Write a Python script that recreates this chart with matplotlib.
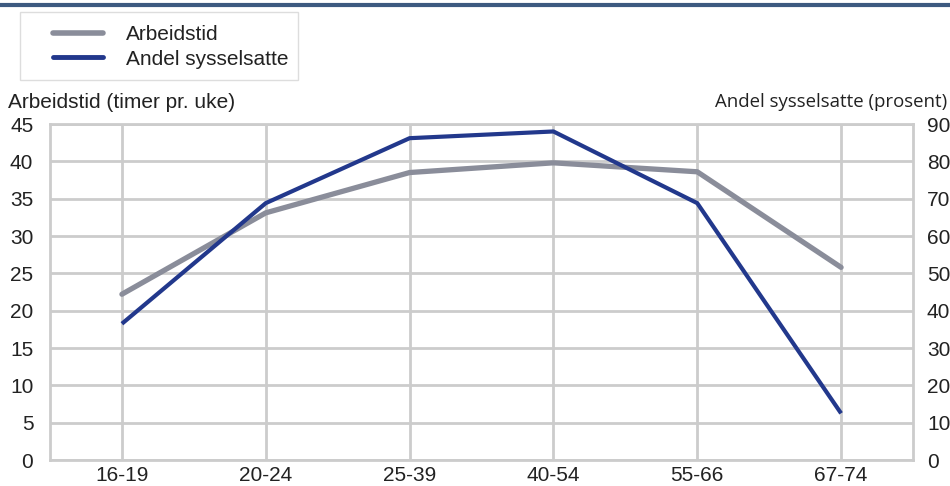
import numpy as np
import matplotlib
matplotlib.use("Agg")
import matplotlib.pyplot as plt
from matplotlib.lines import Line2D
from matplotlib.patches import Rectangle

# data
aldersgrupper = ['16-19', '20-24', '25-39', '40-54', '55-66', '67-74']
arbeidstid = [22.2, 33.1, 38.5, 39.8, 38.6, 25.8]        # timer pr. uke (venstre akse)
andel_sysselsatte = [36.5, 68.8, 86.2, 88.0, 68.8, 12.5]  # prosent (hoyre akse)

left_ticks = list(range(0, 50, 5))
right_ticks = list(range(0, 100, 10))

gray = '#8a8d9a'
blue = '#22388c'
grid_col = '#cccccc'
txt = '#222222'
fs = 15

plt.rcParams['font.family'] = ['Liberation Sans', 'DejaVu Sans']

fig = plt.figure(figsize=(9.5, 4.86), dpi=100)
ax = fig.add_axes([50/950, 1-460/486, 863/950, 336/486])
ax2 = ax.twinx()

x = np.arange(len(aldersgrupper))
ax.plot(x, arbeidstid, color=gray, lw=3.8, solid_capstyle='round', zorder=3)
ax2.plot(x, andel_sysselsatte, color=blue, lw=3, solid_capstyle='butt', zorder=3)

ax.set_xlim(-0.5, 5.5)
ax.set_ylim(0, 45)
ax2.set_ylim(0, 90)
ax.set_xticks(x)
ax.set_xticklabels(aldersgrupper)
ax.set_yticks(left_ticks)
ax2.set_yticks(right_ticks)

ax.grid(True, color=grid_col, lw=2)
ax.set_axisbelow(True)
for a in (ax, ax2):
    for s in a.spines.values():
        s.set_visible(False)
    a.tick_params(length=0, labelsize=fs, colors=txt)
ax.tick_params(axis='y', pad=12)
ax.tick_params(axis='x', pad=4)
ax2.tick_params(axis='y', pad=10)

# frame drawn in grid colour
for s in ('left', 'right', 'top', 'bottom'):
    ax.spines[s].set_visible(True)
    ax.spines[s].set_color(grid_col)
    ax.spines[s].set_linewidth(2)

fig.text(8/950, 1-102/486, 'Arbeidstid (timer pr. uke)', fontsize=fs,
         va='center', ha='left', color=txt)
fig.text(947/950, 1-102/486, 'Andel sysselsatte (prosent)', fontsize=13.4,
         va='center', ha='right', color=txt, family=['Open Sans', 'DejaVu Sans'])

# top bar
fig.add_artist(Line2D([0, 1], [1-5/486, 1-5/486], color='#3d5a80', lw=3,
                      transform=fig.transFigure))

# legend frame + entries
fig.add_artist(Rectangle((20/950, 1-80/486), 278/950, 68/486, transform=fig.transFigure,
                         facecolor='white', edgecolor='#dddddd', lw=1))
handles = [Line2D([], [], color=gray, lw=4, solid_capstyle='round'),
           Line2D([], [], color=blue, lw=3.5, solid_capstyle='round')]
leg = fig.legend(handles, ['Arbeidstid', 'Andel sysselsatte'], loc='center left',
                 bbox_to_anchor=(53/950, 1-47/486), fontsize=fs, frameon=False,
                 handlelength=2.4, handletextpad=1.1, borderpad=0,
                 labelspacing=0.25, borderaxespad=0)
for t in leg.get_texts():
    t.set_color(txt)

fig.savefig('out.png', dpi=100)
